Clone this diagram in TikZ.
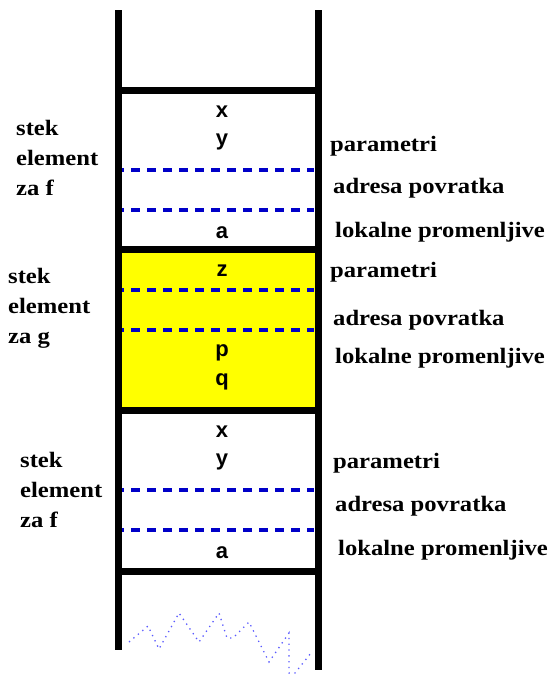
\documentclass[tikz,border=0pt]{standalone}
\usepackage{fontspec}
\newfontfamily\labfont[FakeStretch=1.12]{Liberation Serif}
\newfontfamily\varfont{Liberation Sans}
\definecolor{stackyellow}{RGB}{255,255,0}
\definecolor{dashblue}{RGB}{0,0,200}
\definecolor{dotblue}{RGB}{90,90,255}
\begin{document}
\begin{tikzpicture}[x=1pt,y=-1pt,
  wall/.style={line width=7pt},
  sep/.style={line width=7pt},
  slot/.style={dashblue,line width=3.4pt,dash pattern=on 9pt off 7pt,dash phase=-9pt},
  var/.style={font=\varfont\bfseries\fontsize{22}{22}\selectfont,inner sep=0pt},
  lab/.style={font=\labfont\bfseries\fontsize{22}{22}\selectfont,inner sep=0pt,anchor=west},
  side/.style={font=\labfont\bfseries\fontsize{22}{30}\selectfont,inner sep=0pt,anchor=west,align=left},
  wiggle/.style={dotblue,line width=1.3pt,dash pattern=on 1.3pt off 4.5pt}]
\useasboundingbox (0,0) rectangle (552,680);
% yellow frame for g
\fill[stackyellow] (118,249) rectangle (318,410);
% dashed separators
\foreach \yy in {170,210,290,330,490,530}
  \draw[slot] (122,\yy) -- (314,\yy);
% walls
\coordinate (lt) at (118,10);
\coordinate (lb) at (118,650);
\coordinate (rt) at (318,10);
\coordinate (rb) at (318,670);
\draw[wall] (lt) -- (lb);
\draw[wall] (rt) -- (rb);
\foreach \yy in {90,249,410,571}
  \draw[sep] (118,\yy) -- (318,\yy);
% cell contents
\node[var] (x1) at (222,112) {x};
\node[var] (y1) at (222,142) {y};
\node[var] (a1) at (222,233) {a};
\node[var] (z2) at (222,271) {z};
\node[var] (p2) at (222,353) {p};
\node[var] (q2) at (222,382) {q};
\node[var] (x3) at (222,432) {x};
\node[var] (y3) at (222,462) {y};
\node[var] (a3) at (222,553) {a};
% right labels
\node[lab] (par1) at (330,146) {parametri};
\node[lab] (adr1) at (333,188) {adresa povratka};
\node[lab] (lok1) at (335,232) {lokalne promenljive};
\node[lab] (par2) at (330,272) {parametri};
\node[lab] (adr2) at (333,320) {adresa povratka};
\node[lab] (lok2) at (335,358) {lokalne promenljive};
\node[lab] (par3) at (333,463) {parametri};
\node[lab] (adr3) at (335,506) {adresa povratka};
\node[lab] (lok3) at (338,550) {lokalne promenljive};
% left labels
\node[side] (sf1) at (16,158) {stek\\element\\za f};
\node[side] (sg) at (8,308) {stek\\element\\za g};
\node[side] (sf2) at (20,490) {stek\\element\\za f};
% torn bottom
\draw[wiggle] (129,642) -- (148,626) -- (159,649) -- (179,613) -- (199,642)
  -- (219,613) -- (227,638) -- (233,638) -- (249,622) -- (269,662)
  -- (289,633) -- (289,673) -- (295,673) -- (311,653);
\end{tikzpicture}
\end{document}
